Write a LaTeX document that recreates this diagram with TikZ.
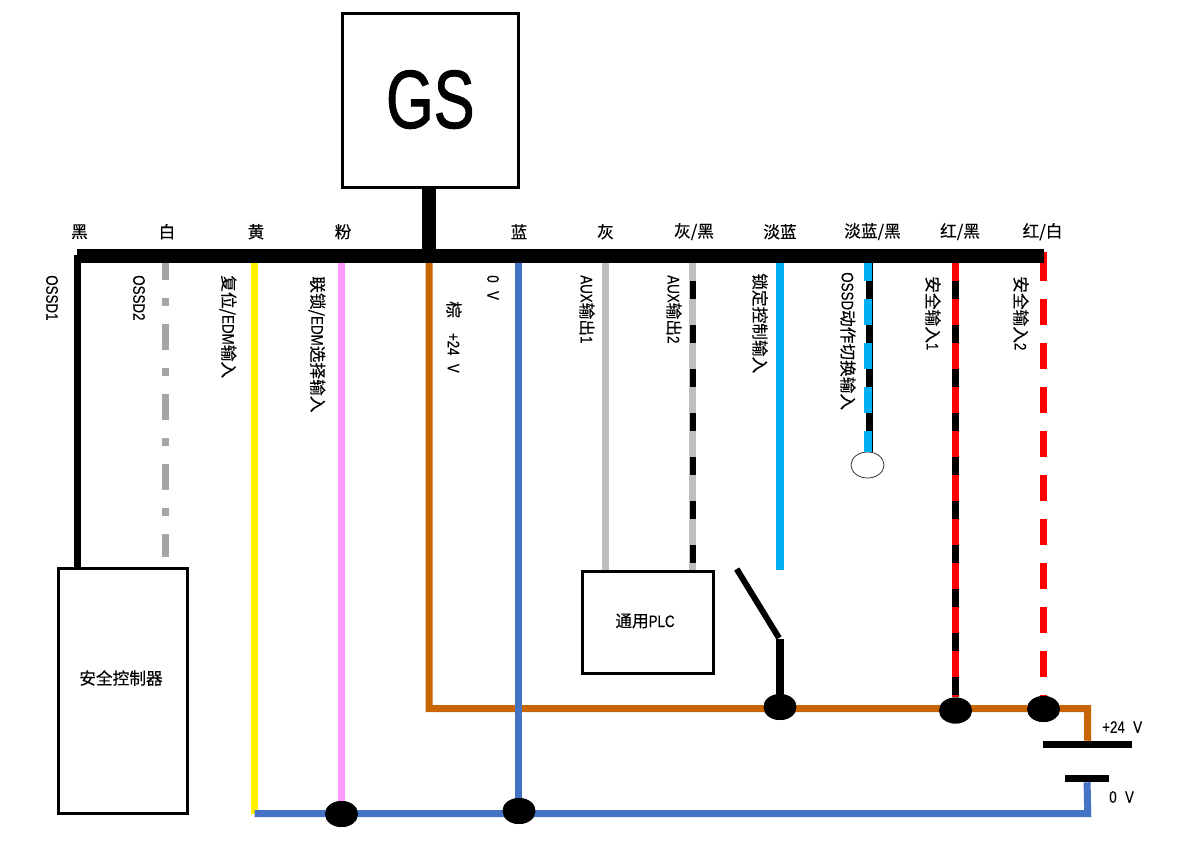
\documentclass[tikz,border=0pt]{standalone}
\usepackage{fontspec}
\usetikzlibrary{shapes.geometric}
\setmainfont[FakeBold=0.25]{Noto Sans CJK SC}
\newfontfamily\latn[FakeStretch=0.8,FakeBold=0.25]{Liberation Sans}
\newfontfamily\latnbig[FakeStretch=0.74,FakeBold=1.2]{Liberation Sans}
\definecolor{wgray}{HTML}{A6A6A6}
\definecolor{wlgray}{HTML}{BFBFBF}
\definecolor{wpink}{HTML}{FF99FF}
\definecolor{wbrown}{HTML}{C96500}
\definecolor{wblue}{HTML}{4472C4}
\definecolor{wsky}{HTML}{00B0F0}
\tikzset{
  wire/.style={line width=5.25pt},
  tiger/.style={wire,dash pattern=on 19.5pt off 13.5pt},
  stripe/.style={line width=4.5pt,dash pattern=on 13.5pt off 19.5pt},
  box/.style={draw,line width=2.25pt,inner sep=0pt},
  dot/.style={ellipse,fill,inner sep=0pt,minimum width=24.75pt,minimum height=19.5pt},
  plate/.style={fill,inner sep=0pt},
  lbl/.style={inner sep=0pt,font=\fontsize{12.5pt}{14pt}\selectfont},
  vlbl/.style={lbl,rotate=-90,anchor=west}
}
\begin{document}
\begin{tikzpicture}[x=0.75pt,y=-0.75pt]
    \useasboundingbox (0,0) rectangle (1184,850);
    % blocks
    \node[box,minimum width=132pt,minimum height=130.9pt,font=\fontsize{62pt}{62pt}\latnbig] (gs) at (430.3,100.5) {\raisebox{2pt}{GS}};
    \node[box,minimum width=96.75pt,minimum height=183.75pt] (ctrl) at (123,691) {};
    \node[lbl] (ctrltxt) at (121,678) {安全控制器};
    \node[box,minimum width=98.25pt,minimum height=76.5pt] (plc) at (648,622.5) {};
    \node[lbl] (plctxt) at (645,621) {通用{\latn PLC}};
    \node[dot] (j1) at (780,707) {};
    \node[dot] (j2) at (955.5,710.5) {};
    \node[dot] (j3) at (1043.5,709) {};
    \node[dot] (j4) at (341.5,814) {};
    \node[dot] (j5) at (519,811) {};
    \node[plate,minimum width=66.75pt,minimum height=5.25pt] (pp) at (1087.5,744.5) {};
    \node[plate,minimum width=33pt,minimum height=5.25pt] (pm) at (1087,778.5) {};
    \node[draw=black!80,line width=0.6pt,ellipse,fill=white,inner sep=0pt,minimum width=24.75pt,minimum height=19.5pt] (cap) at (867.5,465) {};
    % wire tops
    \coordinate (busl) at (77,256);
    \coordinate (busr) at (1044,256);
    \coordinate (busm) at (429,256);
    \coordinate (pw) at (1087.7,708.5);
    \coordinate (nw) at (1087.7,813.5);
    \coordinate (yb) at (254.5,813.5);
    \coordinate (tblack) at (77.7,255);
    \coordinate (twhite) at (165.5,254);
    \coordinate (tyellow) at (254.5,256);
    \coordinate (tpink) at (341.5,256);
    \coordinate (tbrown) at (429,256);
    \coordinate (tblue) at (518.5,256);
    \coordinate (tgray) at (605.5,256);
    \coordinate (tgrayb) at (692.5,256);
    \coordinate (tsky) at (780,256);
    \coordinate (tskyb) at (868,255);
    \coordinate (tredb) at (955.5,255);
    \coordinate (tredw) at (1043.5,255);
    \coordinate (tredtop) at (1043.5,252);
    \coordinate (sgrayb) at (692.8,281);
    \coordinate (sskyb) at (869.5,281);
    \coordinate (sredb) at (955.5,281);
    \coordinate (wend) at (165.5,557);
    \coordinate (skyend) at (780,570);
    \coordinate (pivot) at (780,639);
    \coordinate (armtop) at (736.7,569);
    \coordinate (armend) at (779,638);
    \coordinate (thin) at (872.5,263);
    % wires
    \draw[wire] (tblack) -- (tblack |- ctrl.north);
    \draw[wire,wgray,dash pattern=on 19.5pt off 13.5pt on 6pt off 13.5pt] (twhite) -- (wend);
    \draw[wire,yellow] (tyellow) -- (yb);
    \draw[wire,wpink] (tpink) -- (j4);
    \draw[wire,wblue] (yb) -- (nw) -- (pm);
    \draw[wire,wbrown] (tbrown) -- (tbrown |- pw) -- (pw) -- (pp);
    \draw[wire,wblue] (tblue) -- (tblue |- yb);
    \draw[wire,wlgray] (tgray) -- (tgray |- plc.north);
    \draw[wire,wlgray] (tgrayb) -- (tgrayb |- plc.north);
    \draw[stripe] (sgrayb) -- (sgrayb |- plc.north);
    \draw[wire,line width=6pt,wsky] (tsky) -- (skyend);
    \draw[line width=0.75pt] (thin) -- (thin |- cap.north);
    \draw[tiger,line width=6.4pt,wsky] (tskyb) -- (tskyb |- cap.north);
    \draw[stripe,line width=4.9pt] (sskyb) -- (sskyb |- cap.north);
    \draw[tiger,red] (tredb) -- (j2);
    \draw[stripe,line width=5.25pt] (sredb) -- (j2);
    \draw[tiger,red] (tredw) -- (j3);
    \draw[wire,red] (tredtop) -- (tredw);
    % switch
    \draw[wire,line width=6pt] (pivot) -- (j1);
    \draw[line width=4.5pt] (armtop) -- (armend);
    % bus
    \draw[line width=10.5pt] (busm |- gs.south) -- (busm);
    \draw[line width=10.5pt] (busl) -- (busr);
    \node[dot] at (j1) {};
    \node[dot] at (j2) {};
    \node[dot] at (j3) {};
    \node[dot] at (j4) {};
    \node[dot] at (j5) {};
    % colours
    \node[lbl] (c1) at (79.5,231.7) {黑};
    \node[lbl] (c2) at (167,231.7) {白};
    \node[lbl] (c3) at (256,231.7) {黄};
    \node[lbl] (c4) at (343,231.7) {粉};
    \node[lbl] (c5) at (519,231.7) {蓝};
    \node[lbl] (c6) at (605.5,231.7) {灰};
    \node[lbl] (c7) at (694,231.7) {灰/黑};
    \node[lbl] (c8) at (780,231.7) {淡蓝};
    \node[lbl] (c9) at (872.5,231.7) {淡蓝/黑};
    \node[lbl] (c10) at (960,231.7) {红/黑};
    \node[lbl] (c11) at (1042.5,231.7) {红/白};
    % functions
    \node[vlbl] (f1) at (52,275) {\latn OSSD1};
    \node[vlbl] (f2) at (139,275) {\latn OSSD2};
    \node[vlbl] (f3) at (228,275) {复位/{\latn EDM}输入};
    \node[vlbl] (f4) at (317,276) {联锁/{\latn EDM}选择输入};
    \node[vlbl] (f5) at (454,301) {棕\hspace{0.9em}{\latn +24\hspace{0.5em}V}};
    \node[vlbl] (f6) at (493,275) {\latn 0\hspace{0.5em}V};
    \node[vlbl] (f7) at (587,275) {{\latn AUX}输出{\latn 1}};
    \node[vlbl] (f8) at (674,275) {{\latn AUX}输出{\latn 2}};
    \node[vlbl] (f9) at (760,273) {锁定控制输入};
    \node[vlbl] (f10) at (848,272) {{\latn OSSD}动作切换输入};
    \node[vlbl] (f11) at (933,276) {安全输入{\latn 1}};
    \node[vlbl] (f12) at (1021,276) {安全输入{\latn 2}};
    % supply
    \node[lbl,anchor=west] (v1) at (1102,727) {\latn +24\hspace{0.5em}V};
    \node[lbl,anchor=west] (v2) at (1109,797) {\latn 0\hspace{0.5em}V};
\end{tikzpicture}
\end{document}
